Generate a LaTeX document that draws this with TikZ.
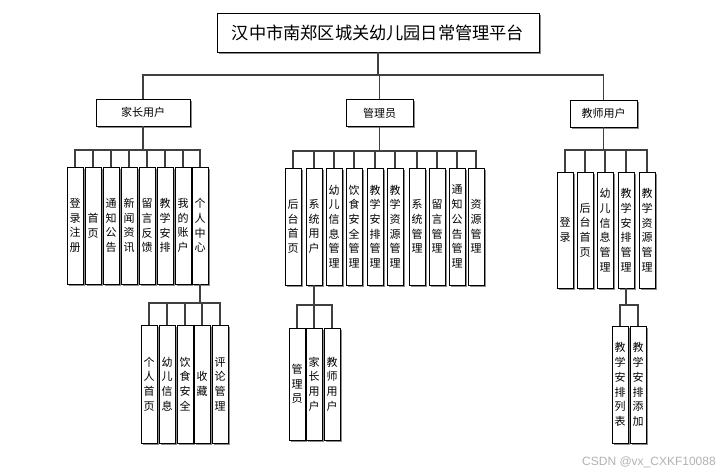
\documentclass[tikz,border=0pt]{standalone}
\usepackage{fontspec}
\setmainfont{Liberation Sans}
\newfontfamily\cjk{Noto Sans CJK SC}
\usetikzlibrary{shadows}
\begin{document}
\begin{tikzpicture}[x=1pt,y=-1pt,
  line/.style={draw=black!75, line width=1.1pt},
  sh/.style={drop shadow={shadow xshift=1.8pt, shadow yshift=-1.8pt, fill=black!45, opacity=1}},
  titlebox/.style={draw, line width=0.9pt, fill=white, sh, inner sep=0pt, minimum width=322pt, minimum height=39pt, font=\cjk\fontsize{17.2}{20}\selectfont},
  catbox/.style={draw, line width=0.9pt, fill=white, sh, inner sep=0pt, minimum height=27pt, font=\cjk\fontsize{11}{13}\selectfont},
  vbox/.style={draw, line width=0.9pt, fill=white, sh, inner sep=0pt, minimum width=16pt, minimum height=#1, align=center, font=\cjk\fontsize{11}{14.7}\selectfont},
  wmark/.style={text=black!30, font=\fontsize{12}{14}\selectfont}
]
\useasboundingbox[fill=white] (0,0) rectangle (724,475);

% title and categories
\node[titlebox] (title) at (378,32.5) {汉中市南郑区城关幼儿园日常管理平台};
\node[catbox, minimum width=94pt] (p) at (143,112.5) {家长用户};
\node[catbox, minimum width=67pt] (a) at (379.5,113) {管理员};
\node[catbox, minimum width=67pt] (t) at (603.5,113.5) {教师用户};

\coordinate (bus) at (378,75);
\draw[line] (title.south) -- (bus);
\draw[line] (bus) -| (p.north);
\draw[line] (bus) -| (a.north);
\draw[line] (bus) -| (t.north);

% parent children
\node[vbox=117pt] (p1) at (75,225.5) {登\\录\\注\\册};
\node[vbox=117pt] (p2) at (93,225.5) {首\\页};
\node[vbox=117pt] (p3) at (111,225.5) {通\\知\\公\\告};
\node[vbox=117pt] (p4) at (129,225.5) {新\\闻\\资\\讯};
\node[vbox=117pt] (p5) at (147,225.5) {留\\言\\反\\馈};
\node[vbox=117pt] (p6) at (165,225.5) {教\\学\\安\\排};
\node[vbox=117pt] (p7) at (183,225.5) {我\\的\\账\\户};
\node[vbox=117pt] (p8) at (200,225.5) {个\\人\\中\\心};
\coordinate (pj) at (143,150);
\draw[line] (p.south) -- (pj);
\foreach \i in {1,...,8} \draw[line] (pj) -| (p\i.north);

% admin children
\node[vbox=117pt] (a1) at (293,226.5) {后\\台\\首\\页};
\node[vbox=117pt] (a2) at (314,226.5) {系\\统\\用\\户};
\node[vbox=117pt] (a3) at (334,226.5) {幼\\儿\\信\\息\\管\\理};
\node[vbox=117pt] (a4) at (354,226.5) {饮\\食\\安\\全\\管\\理};
\node[vbox=117pt] (a5) at (375,226.5) {教\\学\\安\\排\\管\\理};
\node[vbox=117pt] (a6) at (395,226.5) {教\\学\\资\\源\\管\\理};
\node[vbox=117pt] (a7) at (417,226.5) {系\\统\\管\\理};
\node[vbox=117pt] (a8) at (437,226.5) {留\\言\\管\\理};
\node[vbox=117pt] (a9) at (457,226.5) {通\\知\\公\\告\\管\\理};
\node[vbox=117pt] (a10) at (476,226.5) {资\\源\\管\\理};
\coordinate (aj) at (379.5,151);
\draw[line] (a.south) -- (aj);
\foreach \i in {1,...,10} \draw[line] (aj) -| (a\i.north);

% teacher children
\node[vbox=116pt] (t1) at (565,230) {登\\录};
\node[vbox=116pt] (t2) at (585,230) {后\\台\\首\\页};
\node[vbox=116pt] (t3) at (605,230) {幼\\儿\\信\\息\\管\\理};
\node[vbox=116pt] (t4) at (626,230) {教\\学\\安\\排\\管\\理};
\node[vbox=116pt] (t5) at (647,230) {教\\学\\资\\源\\管\\理};
\coordinate (tj) at (603.5,150);
\draw[line] (t.south) -- (tj);
\foreach \i in {1,...,5} \draw[line] (tj) -| (t\i.north);

% parent sub (个人中心)
\node[vbox=118pt] (q1) at (149,384) {个\\人\\首\\页};
\node[vbox=118pt] (q2) at (167,384) {幼\\儿\\信\\息};
\node[vbox=118pt] (q3) at (185,384) {饮\\食\\安\\全};
\node[vbox=118pt] (q4) at (202,384) {收\\藏};
\node[vbox=118pt] (q5) at (220,384) {评\\论\\管\\理};
\coordinate (qj) at (200,303);
\draw[line] (p8.south) -- (qj);
\foreach \i in {1,...,5} \draw[line] (qj) -| (q\i.north);

% admin sub (系统用户)
\node[vbox=112pt] (b1) at (297,384) {管\\理\\员};
\node[vbox=112pt] (b2) at (314,384) {家\\长\\用\\户};
\node[vbox=112pt] (b3) at (332,384) {教\\师\\用\\户};
\coordinate (bj) at (314,305);
\draw[line] (a2.south) -- (bj);
\foreach \i in {1,...,3} \draw[line] (bj) -| (b\i.north);

% teacher sub (教学安排管理)
\node[vbox=117pt] (s1) at (620,384.5) {教\\学\\安\\排\\列\\表};
\node[vbox=117pt] (s2) at (638,384.5) {教\\学\\安\\排\\添\\加};
\coordinate (sj) at (626,305);
\draw[line] (t4.south) -- (sj);
\foreach \i in {1,2} \draw[line] (sj) -| (s\i.north);

% watermark
\node[wmark] (wm) at (649,462) {CSDN @vx\_CXKF10088};
\end{tikzpicture}
\end{document}
